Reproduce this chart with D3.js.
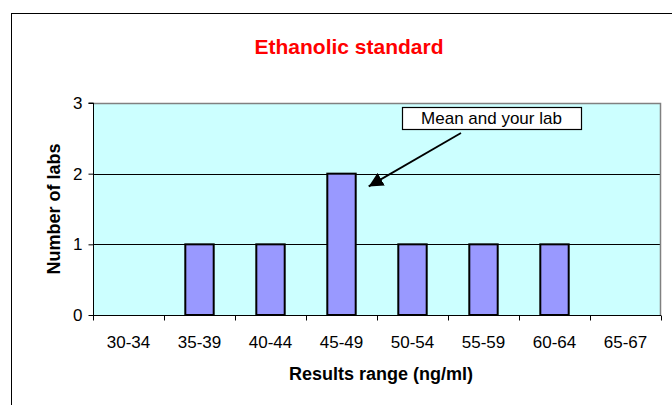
<!DOCTYPE html>
<html><head><meta charset="utf-8">
<script src="https://cdn.jsdelivr.net/npm/d3@7"></script>
<style>body{margin:0;background:#fff}svg{display:block}text{font-family:"Liberation Sans",Arial,sans-serif}</style>
</head><body>
<svg id="c" width="672" height="405"></svg>
<script>
const categories = ["30-34","35-39","40-44","45-49","50-54","55-59","60-64","65-67"];
const counts = [0,1,1,2,1,1,1,0];
const yTicks = [0,1,2,3];
const title = "Ethanolic standard";
const xTitle = "Results range (ng/ml)";
const yTitle = "Number of labs";
const note = "Mean and your lab";

const svg = d3.select("#c");
const m = {l:93, r:661, t:103, b:315};
// outer frame
svg.append("rect").attr("x",11.5).attr("y",13.5).attr("width",700).attr("height",420)
  .attr("fill","#fff").attr("stroke","#000").attr("stroke-width",1);

const x = d3.scaleBand().domain(categories).range([m.l,m.r]).paddingInner(0.6).paddingOuter(0.3);
const xb = d3.scaleBand().domain(categories).range([m.l,m.r]);
const y = d3.scaleLinear().domain([0,3]).range([m.b,m.t]);

svg.append("rect").attr("x",m.l).attr("y",m.t).attr("width",m.r-m.l).attr("height",m.b-m.t).attr("fill","#ccffff");
// gridlines
svg.append("g").selectAll("line").data(yTicks.filter(d=>d>0&&d<3)).join("line")
  .attr("x1",m.l).attr("x2",m.r).attr("y1",d=>Math.round(y(d))+0.5).attr("y2",d=>Math.round(y(d))+0.5)
  .attr("stroke","#000").attr("stroke-width",1);
// plot border top/right gray
svg.append("path").attr("d",`M${m.l},${m.t+0.5}H${m.r-0.5}V${m.b}`).attr("fill","none").attr("stroke","#808080").attr("stroke-width",1.5);

// bars
svg.append("g").selectAll("rect").data(categories.map((c,i)=>({c,v:counts[i]})).filter(d=>d.v>0)).join("rect")
  .attr("x",d=>x(d.c)).attr("width",x.bandwidth())
  .attr("y",d=>y(d.v)).attr("height",d=>y(0)-y(d.v))
  .attr("fill","#9999ff").attr("stroke","#000").attr("stroke-width",2);

// y axis
const ya = svg.append("g").attr("transform",`translate(${m.l+0.5},0)`)
  .call(d3.axisLeft(y).tickValues(yTicks).tickFormat(d3.format("d")).tickSize(5).tickPadding(6));
ya.select(".domain").attr("stroke","#000").attr("d",`M-5,${m.t}H0V${m.b}`);
ya.selectAll("text").attr("font-size",17).attr("fill","#000").attr("font-family","Liberation Sans, Arial");
ya.selectAll(".tick line").attr("stroke","#000");

// x axis
const xa = svg.append("g").attr("transform",`translate(0,${m.b+0.5})`);
xa.append("line").attr("x1",m.l).attr("x2",m.r).attr("stroke","#000");
xa.selectAll(".t").data(categories.concat(["end"])).join("line")
  .attr("x1",(d,i)=>Math.round(m.l+i*xb.bandwidth())+0.5).attr("x2",(d,i)=>Math.round(m.l+i*xb.bandwidth())+0.5)
  .attr("y1",0).attr("y2",5).attr("stroke","#000");
xa.selectAll("text").data(categories).join("text")
  .attr("x",d=>xb(d)+xb.bandwidth()/2).attr("y",32).attr("text-anchor","middle")
  .attr("font-size",17).attr("fill","#000").text(d=>d);

// titles
svg.append("text").attr("x",349).attr("y",54).attr("text-anchor","middle")
  .attr("font-size",21).attr("font-weight","bold").attr("fill","#ff0000").text(title);
svg.append("text").attr("x",381).attr("y",380).attr("text-anchor","middle")
  .attr("font-size",18).attr("font-weight","bold").attr("fill","#000").text(xTitle);
svg.append("text").attr("transform",`translate(60,209) rotate(-90)`).attr("text-anchor","middle")
  .attr("font-size",18).attr("font-weight","bold").attr("fill","#000").text(yTitle);

// annotation
const bx = 402, bw = 179, by = 107, bh = 22;
svg.append("rect").attr("x",bx+0.5).attr("y",by+0.5).attr("width",bw).attr("height",bh)
  .attr("fill","#fff").attr("stroke","#000").attr("stroke-width",1.2);
svg.append("text").attr("x",bx+bw/2).attr("y",by+17).attr("text-anchor","middle")
  .attr("font-size",17).attr("fill","#000").text(note);
svg.append("defs").append("marker").attr("id","ah").attr("viewBox","0 0 10 10").attr("refX",10).attr("refY",5)
  .attr("markerWidth",8).attr("markerHeight",8).attr("orient","auto").attr("markerUnits","strokeWidth")
  .append("path").attr("d","M0,0L10,5L0,10z").attr("fill","#000");
const tipX = x("45-49")+x.bandwidth()+13, tipY = y(1.82);
svg.append("line").attr("x1",461).attr("y1",133).attr("x2",tipX).attr("y2",tipY)
  .attr("stroke","#000").attr("stroke-width",1.8).attr("marker-end","url(#ah)");
</script>
</body></html>
